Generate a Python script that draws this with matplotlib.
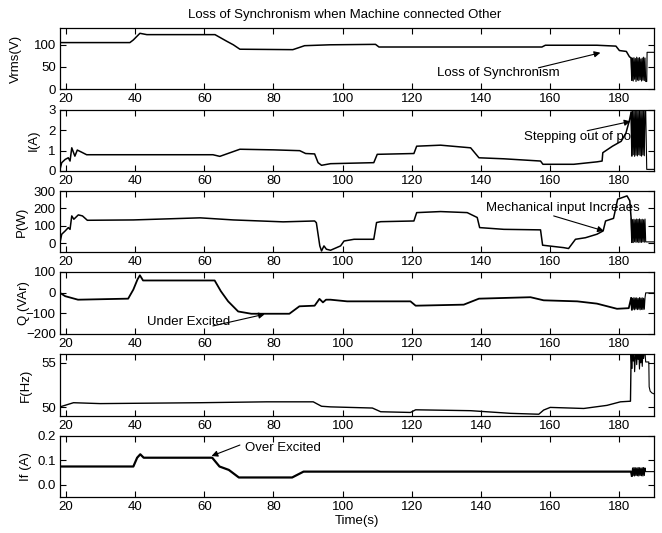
import matplotlib
matplotlib.use("Agg")
import matplotlib.pyplot as plt

plt.rcParams['font.family'] = ['Liberation Sans', 'DejaVu Sans']
plt.rcParams['font.size'] = 9.5

# breakpoints (time in s)
vrms_t = [18.3, 38.5, 39.5, 41.4, 43.4, 63.1, 66.5, 68.4, 70.3, 85.6, 87.5, 89.0, 96.3,
          109.5, 110.5, 157.6, 158.6, 173.5, 179.0, 180.0, 182.0, 182.9, 183.4]
vrms_v = [105, 105, 111, 126, 123, 123, 108, 100, 90, 89, 94, 98, 100,
          101, 95, 95, 99, 99, 97, 87, 85, 73, 70]

i_t = [18.3, 18.8, 19.8, 20.7, 21.2, 21.7, 22.6, 23.3, 24.5, 26.0, 62.5, 64.5, 70.3,
       80.0, 87.6, 89.3, 91.9, 92.9, 93.9, 96.5, 109.0, 110.0, 120.6, 121.4, 128.3,
       137.0, 139.4, 146.6, 157.2, 157.9, 166.8, 173.5, 175.0, 175.2, 178.0, 180.5,
       181.9, 182.9, 183.4]
i_v = [0.08, 0.41, 0.57, 0.65, 0.49, 1.14, 0.73, 1.03, 0.93, 0.8, 0.8, 0.72, 1.07,
       1.04, 1.0, 0.86, 0.84, 0.41, 0.28, 0.36, 0.41, 0.82, 0.86, 1.22, 1.27,
       1.14, 0.65, 0.6, 0.49, 0.33, 0.33, 0.45, 0.49, 0.9, 1.22, 1.46,
       1.87, 2.5, 2.9]

p_t = [18.3, 18.8, 19.8, 20.7, 21.2, 21.7, 22.3, 23.6, 24.8, 26.2, 39.5, 58.8, 68.4,
       82.8, 91.9, 92.4, 93.4, 93.9, 94.6, 95.3, 96.5, 99.4, 100.4, 103.3, 109.0,
       109.8, 111.0, 120.6, 121.4, 128.3, 136.0, 138.9, 139.6, 146.6, 157.2, 157.8,
       163.9, 165.3, 167.3, 170.2, 173.5, 175.3, 176.0, 178.3, 179.5, 182.2, 183.0, 183.4]
p_v = [4, 52, 71, 90, 80, 157, 138, 163, 157, 132, 134, 146, 134,
       123, 128, 118, -15, -44, -15, -34, -40, -15, 13, 23, 23,
       119, 124, 128, 176, 182, 176, 148, 90, 80, 77, -11,
       -25, -30, 23, 32, 52, 71, 128, 143, 253, 272, 244, 140]

q_t = [18.3, 19.8, 23.5, 38.0, 39.5, 40.7, 41.4, 42.3, 63.0, 64.8, 66.9, 69.8, 73.6,
       84.6, 87.5, 91.9, 93.3, 94.3, 95.2, 96.5, 101.3, 119.6, 121.1, 135.0, 139.4,
       154.3, 158.1, 167.8, 173.5, 179.3, 182.7, 183.4]
q_v = [-1, -17, -34, -29, 15, 64, 84, 59, 59, 7, -42, -91, -102,
       -102, -66, -63, -30, -47, -34, -34, -42, -42, -63, -58, -29,
       -22, -37, -42, -53, -78, -75, -25]

f_t = [18.3, 22.2, 29.9, 58.8, 78.0, 91.5, 93.9, 96.5, 108.6, 111.0, 119.6, 121.1,
       137.0, 148.5, 156.7, 158.1, 160.0, 169.7, 176.4, 180.3, 183.2, 183.4]
f_v = [50.03, 50.5, 50.4, 50.5, 50.6, 50.6, 50.1, 50.03, 49.9, 49.48, 49.4, 49.7,
       49.6, 49.3, 49.2, 49.67, 49.97, 49.85, 50.2, 50.6, 50.67, 56.2]

if_t = [18.3, 39.5, 40.6, 41.5, 42.5, 62.3, 64.4, 67.1, 70.0, 85.4, 88.7, 183.4]
if_v = [0.075, 0.075, 0.111, 0.125, 0.111, 0.111, 0.075, 0.061, 0.03, 0.03, 0.054, 0.054]

# oscillation after loss of synchronism
osc_t = [183.6, 183.8, 184.0, 184.2, 184.4, 184.6, 184.8, 185.0, 185.2, 185.4, 185.6,
         185.8, 186.0, 186.2, 186.4, 186.6, 186.8, 187.0, 187.2, 187.4, 187.6]
vrms_osc = [20, 70, 18, 71, 22, 69, 17, 72, 20, 70, 19, 71, 21, 68, 18, 70, 20, 72, 19, 70, 17]
i_osc = [0.75, 3.0, 0.8, 2.98, 0.72, 3.0, 0.78, 2.95, 0.74, 3.0, 0.8, 2.97, 0.76, 3.0,
         0.73, 2.96, 0.79, 3.0, 0.75, 2.98, 3.0]
p_osc = [6, 136, 4, 138, 8, 135, 5, 139, 7, 137, 4, 140, 6, 136, 5, 138, 8, 135, 6, 139, 8]
q_osc = [-82, -27, -80, -24, -83, -26, -79, -25, -82, -28, -80, -24, -83, -26, -81, -25,
         -82, -27, -80, -25, -1]
f_osc = [54.4, 56.2, 55.2, 56.2, 54.0, 55.6, 56.2, 54.8, 56.2, 55.4, 56.2, 54.3, 56.2,
         55.0, 56.2, 54.6, 56.2, 55.5, 56.2, 56.2, 55.1]
if_osc = [0.037, 0.069, 0.038, 0.071, 0.036, 0.07, 0.038, 0.069, 0.037, 0.071, 0.036,
          0.07, 0.038, 0.069, 0.037, 0.07, 0.036, 0.071, 0.038, 0.069, 0.054]

vrms_end_t, vrms_end_v = [187.9, 188.0, 190.0], [17, 83, 83]
i_end_t, i_end_v = [187.9, 190.0], [0.08, 0.08]
p_end_t, p_end_v = [187.9, 190.0], [8, 8]
q_end_t, q_end_v = [187.9, 190.0], [-1, -1]
f_end_t, f_end_v = [188.5, 188.6, 188.9, 189.4, 190.0], [55.1, 52.3, 51.8, 51.6, 51.5]
if_end_t, if_end_v = [190.0], [0.054]

ylabels = ['Vrms(V)', 'I(A)', 'P(W)', 'Q (VAr)', 'F(Hz)', 'If (A)']
ylims = [(0, 138), (0, 3), (-50, 300), (-200, 100), (49, 56), (-0.05, 0.2)]
yticks = [[0, 50, 100], [0, 1, 2, 3], [0, 100, 200, 300], [-200, -100, 0, 100],
          [50, 55], [0, 0.1, 0.2]]
xticks = [20, 40, 60, 80, 100, 120, 140, 160, 180]

series = [(vrms_t, vrms_v, vrms_osc, vrms_end_t, vrms_end_v),
          (i_t, i_v, i_osc, i_end_t, i_end_v),
          (p_t, p_v, p_osc, p_end_t, p_end_v),
          (q_t, q_v, q_osc, q_end_t, q_end_v),
          (f_t, f_v, f_osc, f_end_t, f_end_v),
          (if_t, if_v, if_osc, if_end_t, if_end_v)]

# panel pixel extents (top, bottom) in a 662x533 figure
panel_px = [(28, 89), (110, 171), (191, 252), (272, 334), (354, 416), (436, 497)]
label_x = [-0.064, -0.034, -0.054, -0.050, -0.047, -0.047]
widths = [1.1, 1.1, 1.1, 1.3, 1.0, 1.6]

fig = plt.figure(figsize=(6.62, 5.33), dpi=100)
axes = []
for k, (top, bot) in enumerate(panel_px):
    ax = fig.add_axes([60 / 662, 1 - bot / 533, 594 / 662, (bot - top) / 533])
    t, v, osc, et, ev = series[k]
    ax.plot(t + osc_t[:1], v + osc[:1], color='k', lw=widths[k], zorder=2)
    ax.plot(t[-1:] + osc_t + et, v[-1:] + osc + ev, color='k', lw=0.8, zorder=2)
    ax.set_xlim(18.3, 190)
    ax.set_ylim(*ylims[k])
    ax.set_xticks(xticks)
    ax.set_yticks(yticks[k])
    ax.tick_params(direction='in', length=4, top=True, right=True, width=0.8, pad=3)
    for s in ax.spines.values():
        s.set_linewidth(0.9)
    ax.set_ylabel(ylabels[k])
    ax.yaxis.set_label_coords(label_x[k], 0.5)
    axes.append(ax)

axes[-1].set_xlabel('Time(s)', labelpad=1)
fig.text(0.521, 0.972, 'Loss of Synchronism when Machine connected Other',
         ha='center', va='center')

arrow = dict(arrowstyle='-|>', color='k', lw=0.8, mutation_scale=9, shrinkA=0, shrinkB=0)

axes[0].text(145, 36, 'Loss of Synchronism', ha='center', va='center')
axes[0].annotate('', xy=(174.5, 82), xytext=(156.6, 48), arrowprops=arrow)

axes[1].text(152.3, 1.66, 'Stepping out of pole', ha='left', va='center', zorder=1)
axes[1].annotate('', xy=(183.2, 2.44), xytext=(170.7, 1.98), arrowprops=arrow)

axes[2].text(163.8, 205, 'Mechanical input Increaes', ha='center', va='center')
axes[2].annotate('', xy=(175.5, 71), xytext=(161, 157), arrowprops=arrow)

axes[3].text(55.5, -140, 'Under Excited', ha='center', va='center')
axes[3].annotate('', xy=(77.5, -104), xytext=(62.5, -161), arrowprops=arrow)

axes[5].text(71.7, 0.15, 'Over Excited', ha='left', va='center')
axes[5].annotate('', xy=(62.1, 0.118), xytext=(70.3, 0.163), arrowprops=arrow)

fig.savefig('out.png', dpi=100)
